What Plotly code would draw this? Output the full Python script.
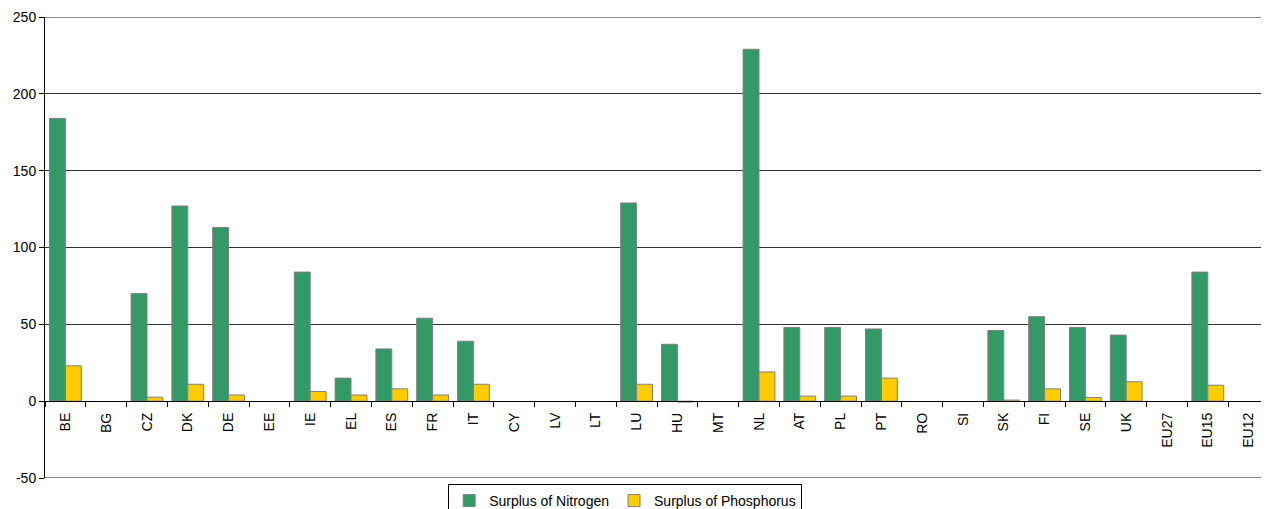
import plotly.graph_objects as go

categories = ["BE", "BG", "CZ", "DK", "DE", "EE", "IE", "EL", "ES", "FR", "IT", "CY", "LV", "LT",
              "LU", "HU", "MT", "NL", "AT", "PL", "PT", "RO", "SI", "SK", "FI", "SE", "UK",
              "EU27", "EU15", "EU12"]
nitrogen = [184, None, 70, 127, 113, None, 84, 15, 34, 54, 39, None, None, None,
            129, 37, None, 229, 48, 48, 47, None, None, 46, 55, 48, 43,
            None, 84, None]
phosphorus = [23, None, 2.6, 11, 4, None, 6.3, 4, 8, 4, 11, None, None, None,
              11, -0.6, None, 19, 3.3, 3.3, 15, None, None, 0.7, 8, 2.4, 12.6,
              None, 10.4, None]
y_ticks = [-50, 0, 50, 100, 150, 200, 250]
y_tick_labels = ["-50", "0", "50", "100", "150", "200", "250"]
series_names = ["Surplus of Nitrogen", "Surplus of Phosphorus"]

FONT = "Arial, Liberation Sans, sans-serif"

fig = go.Figure()
fig.add_trace(go.Bar(x=categories, y=nitrogen, name=series_names[0],
                     marker=dict(color="#339966", line=dict(color="#808080", width=1))))
fig.add_trace(go.Bar(x=categories, y=phosphorus, name=series_names[1],
                     marker=dict(color="#FFCC00", line=dict(color="#808080", width=1))))

zero_pos = (0 - y_ticks[0]) / (y_ticks[-1] - y_ticks[0])

# the page body has an 8px margin, so the figure is sized to fit inside the window
fig.update_layout(
    width=1261, height=501,
    margin=dict(l=37, r=0, t=9, b=31, autoexpand=False),
    paper_bgcolor="white", plot_bgcolor="white",
    barmode="group", bargap=0.22, bargroupgap=0,
    font=dict(family=FONT, size=14, color="black"),
    showlegend=True,
    legend=dict(orientation="h", x=0.474, xanchor="center", y=-0.013, yanchor="top",
                bordercolor="black", borderwidth=1, bgcolor="white",
                font=dict(family=FONT, size=14, color="black"),
                itemwidth=30, tracegroupgap=0),
    xaxis=dict(anchor="free", position=zero_pos, showline=True, linecolor="black", linewidth=1,
               ticks="outside", tickson="boundaries", ticklen=5, tickcolor="black",
               tickangle=-90, tickfont=dict(family=FONT, size=14, color="black"),
               ticklabelstandoff=5,
               showgrid=False, zeroline=False, fixedrange=True, automargin=False),
    yaxis=dict(range=[y_ticks[0], y_ticks[-1]], tickvals=y_ticks, ticktext=y_tick_labels,
               showline=True, linecolor="black", linewidth=1, ticks="outside", ticklen=5,
               tickcolor="black", showgrid=True, gridcolor="#333333", gridwidth=1,
               zeroline=False, tickfont=dict(family=FONT, size=14, color="black"),
               automargin=False),
)

for yv in (y_ticks[0], y_ticks[-1]):
    fig.add_shape(type="line", xref="paper", yref="y", x0=0, x1=1, y0=yv, y1=yv,
                  line=dict(color="#888888", width=2))

fig.write_html("out.html")
